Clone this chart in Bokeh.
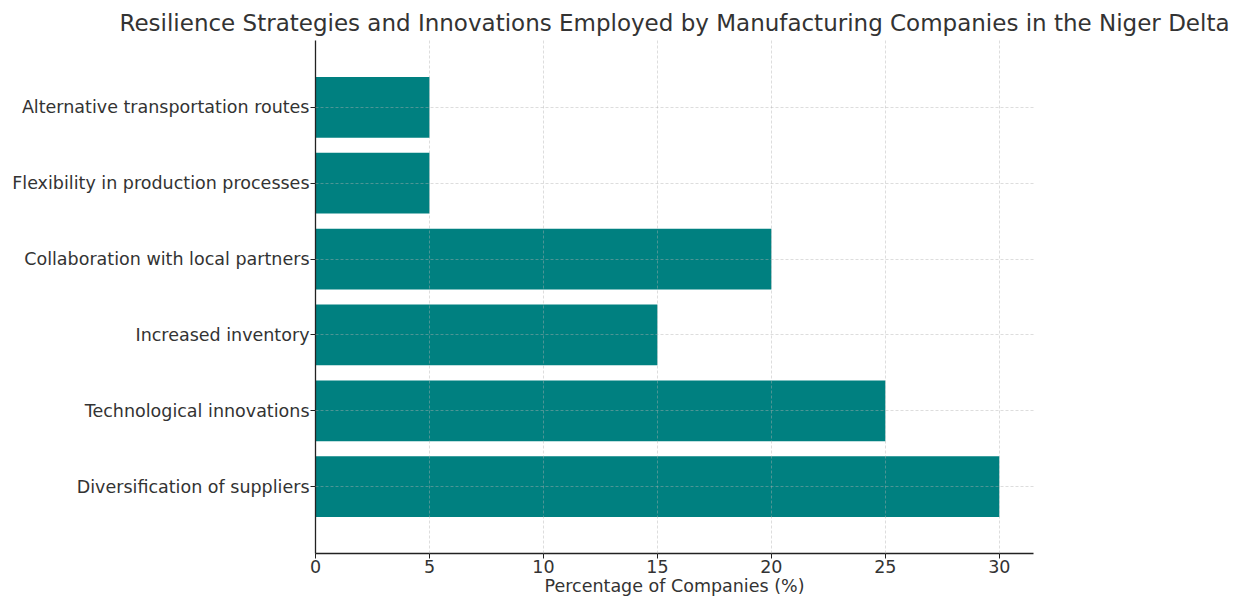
from bokeh.plotting import figure
from bokeh.models import FactorRange, Range1d, FixedTicker
from bokeh.embed import file_html
from bokeh.resources import INLINE

categories = [
    "Diversification of suppliers",
    "Technological innovations",
    "Increased inventory",
    "Collaboration with local partners",
    "Flexibility in production processes",
    "Alternative transportation routes",
]
percentages = [30, 25, 15, 20, 5, 5]
x_ticks = [0, 5, 10, 15, 20, 25, 30]

TEXT = "#333333"
FONT = "DejaVu Sans"

p = figure(
    width=1234, height=598,
    y_range=FactorRange(factors=categories, range_padding=0.38, range_padding_units="absolute"),
    x_range=Range1d(0, 31.5),
    output_backend="svg", toolbar_location=None,
    title="Resilience Strategies and Innovations Employed by Manufacturing Companies in the Niger Delta",
    min_border_left=315, min_border_right=201, min_border_top=40, min_border_bottom=0,
)

p.hbar(y=categories, right=percentages, left=0, height=0.8, color="#008080", line_color=None)

p.title.text_font = FONT
p.title.text_font_size = "23px"
p.title.text_font_style = "normal"
p.title.text_color = TEXT
p.title.align = "center"
p.title.standoff = 9

p.outline_line_color = None
p.xaxis.ticker = FixedTicker(ticks=x_ticks)
p.xaxis.axis_label = "Percentage of Companies (%)"
for ax in (p.xaxis[0], p.yaxis[0]):
    ax.axis_line_color = "#222222"
    ax.axis_line_width = 1.3
    ax.major_tick_line_color = "#222222"
    ax.major_tick_out = 5
    ax.major_tick_in = 0
    ax.minor_tick_line_color = None
    ax.major_label_text_font = FONT
    ax.major_label_text_font_size = "17.5px"
    ax.major_label_text_color = TEXT
    ax.axis_label_text_font = FONT
    ax.axis_label_text_font_size = "17.5px"
    ax.axis_label_text_font_style = "normal"
    ax.axis_label_text_color = TEXT
    ax.axis_label_standoff = 0
p.yaxis.major_label_standoff = 1
p.xaxis.major_label_standoff = 1

for g in (p.xgrid[0], p.ygrid[0]):
    g.grid_line_color = "#b0b0b0"
    g.grid_line_alpha = 0.55
    g.grid_line_dash = "3 2"
    g.grid_line_width = 0.8
    g.level = "overlay"

open("out.html", "w").write(file_html(p, INLINE))
